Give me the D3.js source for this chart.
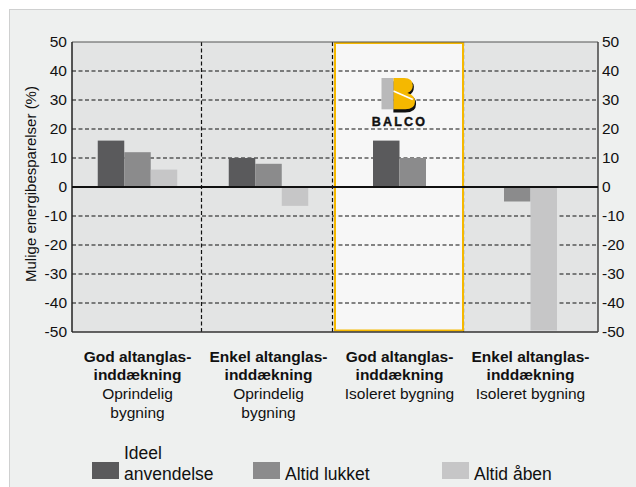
<!DOCTYPE html>
<html>
<head>
<meta charset="utf-8">
<script src="https://d3js.org/d3.v7.min.js"></script>
<style>
body { margin: 0; background: #fff; }
svg { display: block; font-family: "Liberation Sans", Arial, sans-serif; }
</style>
</head>
<body>
<svg width="636" height="487"></svg>
<script>
// data
var groups = ["g1", "g2", "g3", "g4"];
var boldLabels = [["God altanglas-", "inddækning"], ["Enkel altanglas-", "inddækning"],
                  ["God altanglas-", "inddækning"], ["Enkel altanglas-", "inddækning"]];
var subLabels = [["Oprindelig", "bygning"], ["Oprindelig", "bygning"],
                 ["Isoleret bygning"], ["Isoleret bygning"]];
var series = ["Ideel\nanvendelse", "Altid lukket", "Altid åben"];
var ideel  = [16, 10, 16, null];
var lukket = [12, 8, 10, -5];
var aaben  = [6, -6.5, null, -49.5];
var yTicks = [50, 40, 30, 20, 10, 0, -10, -20, -30, -40, -50];
var highlight = 2;

var colors = ["#5a5a5c", "#8b8b8c", "#c6c6c7"];
var values = [ideel, lukket, aaben];

// plot box (note: "top" is reserved on window, so use an object)
var box = {left: 72, right: 598, top: 42, bottom: 332};
var svg = d3.select("svg");

// outer panel
svg.append("rect").attr("x", 9.5).attr("y", 9.5).attr("width", 700).attr("height", 600)
  .attr("fill", "#eef0ef").attr("stroke", "#cfd0d0");

var x = d3.scaleBand().domain(groups).range([box.left, 596]);
var y = d3.scaleLinear().domain([-50, 50]).range([box.bottom, box.top]);
var barW = 26.5;

svg.append("rect").attr("x", box.left).attr("y", box.top)
  .attr("width", box.right - box.left).attr("height", box.bottom - box.top)
  .attr("fill", "#e3e4e4");

// highlighted panel
svg.append("rect").attr("x", x(groups[highlight]) + 1).attr("y", box.top + 1)
  .attr("width", x.bandwidth() - 3).attr("height", box.bottom - box.top - 2)
  .attr("fill", "#f7f7f7");

// grid
svg.append("g").selectAll("line").data(yTicks.filter(function(d) { return d != 0 && d != 50 && d != -50; }))
  .enter().append("line")
  .attr("x1", box.left).attr("x2", box.right)
  .attr("y1", function(d) { return y(d); }).attr("y2", function(d) { return y(d); })
  .attr("stroke", "#111").attr("stroke-width", 1.2).attr("stroke-dasharray", "4,2.5");

svg.append("g").selectAll("line").data(groups.slice(1)).enter().append("line")
  .attr("x1", function(d) { return x(d) - 1.5; }).attr("x2", function(d) { return x(d) - 1.5; })
  .attr("y1", box.top).attr("y2", box.bottom)
  .attr("stroke", "#111").attr("stroke-width", 1.2).attr("stroke-dasharray", "4,2.5");

svg.append("rect").attr("x", x(groups[highlight]) + 1).attr("y", box.top + 1)
  .attr("width", x.bandwidth() - 3).attr("height", box.bottom - box.top - 2.5)
  .attr("fill", "none").attr("stroke", "#f5b800").attr("stroke-width", 2);

// bars, centered on the non-empty ones
groups.forEach(function(g, gi) {
  var present = [];
  values.forEach(function(v, si) { if (v[gi] != null) present.push(si); });
  var start = x(g) + x.bandwidth() / 2 - present.length * barW / 2;
  present.forEach(function(si, k) {
    var v = values[si][gi];
    svg.append("rect")
      .attr("x", start + k * barW)
      .attr("y", y(Math.max(0, v)))
      .attr("width", barW)
      .attr("height", Math.abs(y(v) - y(0)))
      .attr("fill", colors[si]);
  });
});

// frame
svg.append("line").attr("x1", box.left).attr("x2", box.right).attr("y1", box.top).attr("y2", box.top)
  .attr("stroke", "#555").attr("stroke-width", 1.2);
svg.append("line").attr("x1", box.left).attr("x2", box.right).attr("y1", box.bottom).attr("y2", box.bottom)
  .attr("stroke", "#333").attr("stroke-width", 1.5);
svg.append("line").attr("x1", box.left).attr("x2", box.left).attr("y1", box.top).attr("y2", box.bottom)
  .attr("stroke", "#222").attr("stroke-width", 1.5);
svg.append("line").attr("x1", box.right).attr("x2", box.right).attr("y1", box.top).attr("y2", box.bottom)
  .attr("stroke", "#444").attr("stroke-width", 1.5);
svg.append("line").attr("x1", box.left).attr("x2", box.right).attr("y1", y(0)).attr("y2", y(0))
  .attr("stroke", "#111").attr("stroke-width", 2.2);

// axes labels (plain hyphen minus like the original)
var fmt = function(d) { return String(d); };
var yl = d3.axisLeft(y).tickValues(yTicks).tickFormat(fmt).tickSize(0).tickPadding(5);
var yr = d3.axisRight(y).tickValues(yTicks).tickFormat(fmt).tickSize(0).tickPadding(4);
var gl = svg.append("g").attr("transform", "translate(" + box.left + ",0)").call(yl);
var gr = svg.append("g").attr("transform", "translate(" + box.right + ",0)").call(yr);
[gl, gr].forEach(function(g) {
  g.select(".domain").remove();
  g.selectAll("text").attr("font-size", 15.5).attr("fill", "#111")
    .attr("font-family", "Liberation Sans, Arial, sans-serif");
});

svg.append("text")
  .attr("transform", "translate(36,184) rotate(-90)")
  .attr("text-anchor", "middle").attr("font-size", 15).attr("fill", "#111")
  .text("Mulige energibesparelser (%)");

// category labels
groups.forEach(function(g, gi) {
  var cx = x(g) + x.bandwidth() / 2;
  var t = svg.append("text").attr("text-anchor", "middle").attr("fill", "#111").attr("font-size", 15.5);
  boldLabels[gi].forEach(function(s, k) {
    t.append("tspan").attr("x", cx).attr("y", 362 + k * 18).attr("font-weight", "bold").text(s);
  });
  subLabels[gi].forEach(function(s, k) {
    t.append("tspan").attr("x", cx).attr("y", 399 + k * 18.5).text(s);
  });
});

// logo
var lx = x(groups[highlight]) + x.bandwidth() / 2;
var logo = svg.append("g").attr("transform", "translate(" + (lx - 18) + ",78) scale(1.08)");
logo.append("path").attr("d", "M0,29 H22 Q32,29 32,21 Q32,14 25,13 Q30,11 30,5 Q30,0 24,0 H11 V29 Z")
  .attr("fill", "#111").attr("transform", "translate(0,3)");
logo.append("path").attr("d", "M11,0 H21 Q29,0 29,7 Q29,12 24,14 Q31,16 31,22 Q31,29 22,29 H11 Z")
  .attr("fill", "#f5b800");
logo.append("path").attr("d", "M11,12 L29,20").attr("stroke", "#fff").attr("stroke-width", 1.5);
logo.append("rect").attr("x", 0).attr("y", 0).attr("width", 11).attr("height", 29).attr("fill", "#b9b9ba");
svg.append("text").attr("x", lx).attr("y", 126).attr("text-anchor", "middle")
  .attr("font-size", 12.5).attr("font-weight", "bold").attr("letter-spacing", 2.2).attr("fill", "#111")
  .attr("stroke", "#111").attr("stroke-width", 0.4)
  .text("BALCO");

// legend
var legendX = [92, 253, 442];
series.forEach(function(s, i) {
  svg.append("rect").attr("x", legendX[i]).attr("y", 462).attr("width", 27).attr("height", 17)
    .attr("fill", colors[i]);
  var lines = s.split("\n");
  var t = svg.append("text").attr("font-size", 17.5).attr("fill", "#111");
  lines.forEach(function(l, k) {
    t.append("tspan").attr("x", legendX[i] + 32).attr("y", 480 - (lines.length - 1 - k) * 21).text(l);
  });
});
</script>
</body>
</html>
